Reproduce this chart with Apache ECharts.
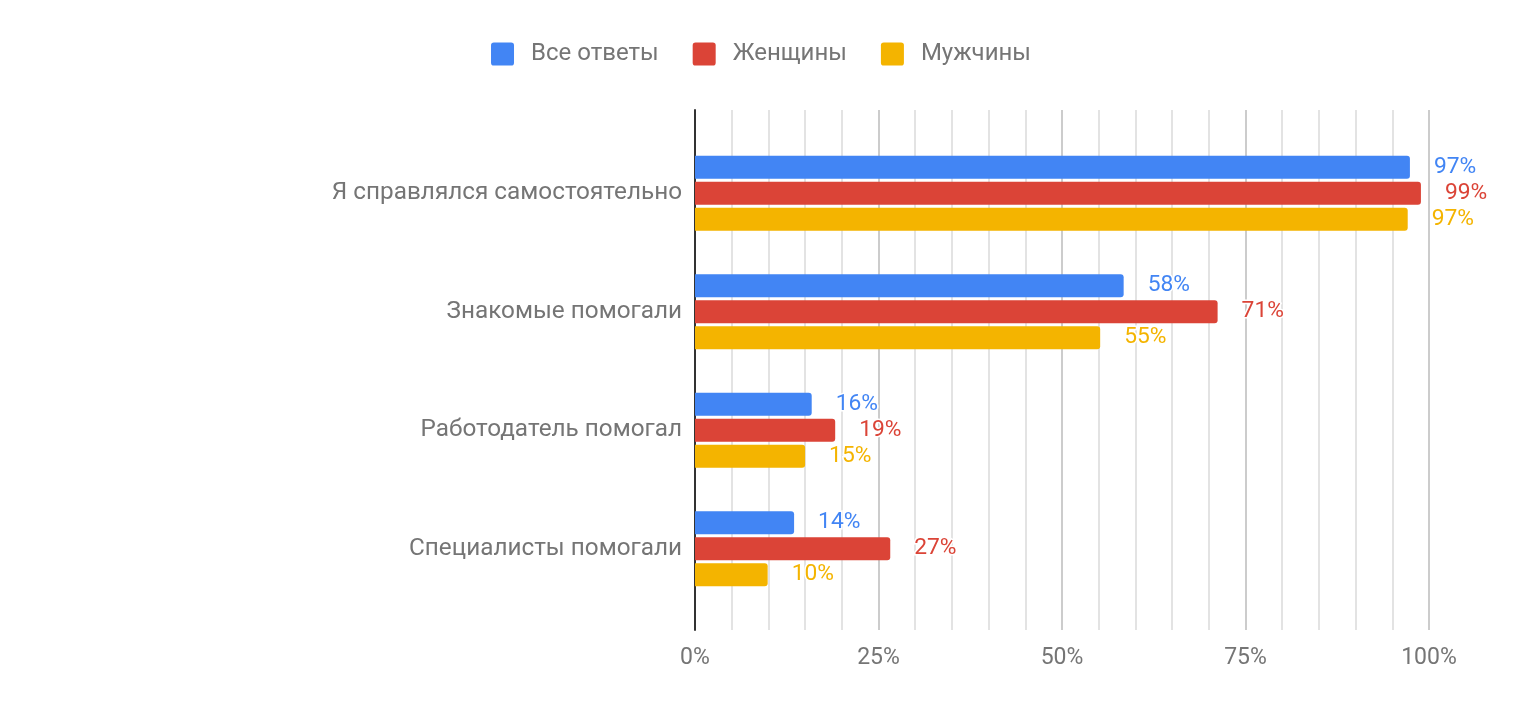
<!DOCTYPE html>
<html>
<head>
<meta charset="utf-8">
<script src="https://cdn.jsdelivr.net/npm/echarts@6/dist/echarts.min.js"></script>
<style>
html,body{margin:0;padding:0;background:#fff;}
#chart{width:1522px;height:708px;}
</style>
</head>
<body>
<div id="chart"></div>
<script>
var categories = ['Я справлялся самостоятельно', 'Знакомые помогали', 'Работодатель помогал', 'Специалисты помогали'];
var seriesNames = ['Все ответы', 'Женщины', 'Мужчины'];
var allAnswers = [97.4, 58.4, 15.9, 13.5];
var women = [98.9, 71.2, 19.1, 26.6];
var men = [97.1, 55.2, 15.0, 9.9];
var colors = ['#4285F4', '#DB4437', '#F4B400'];

var FONT = 'Roboto, "Noto Sans", sans-serif';
var chart = echarts.init(document.getElementById('chart'));

function mkSeries(name, data, color) {
  return {
    name: name,
    type: 'bar',
    xAxisIndex: 1,
    yAxisIndex: 1,
    data: data,
    barWidth: 23,
    barGap: '13%',
    itemStyle: { color: color, borderRadius: [0, 3, 3, 0] },
    label: {
      show: true,
      position: 'right',
      distance: 24,
      color: color,
      fontFamily: FONT,
      fontSize: 22.8,
      textBorderColor: '#fff',
      textBorderWidth: 3,
      formatter: function (p) { return Math.round(p.value) + '%'; }
    }
  };
}

chart.setOption({
  animation: false,
  color: colors,
  legend: {
    top: 37,
    left: 'center',
    itemWidth: 23,
    itemHeight: 23,
    itemGap: 34,
    icon: 'path://M3,0 L21,0 Q24,0 24,3 L24,21 Q24,24 21,24 L3,24 Q0,24 0,21 L0,3 Q0,0 3,0 Z',
    data: seriesNames,
    textStyle: { color: '#757575', fontSize: 24, fontFamily: FONT, padding: [0, 0, 0, 12] }
  },
  grid: [
    { left: 695, right: 93, top: 110, bottom: 78 },
    { left: 695, right: 93, top: 134, bottom: 100 }
  ],
  xAxis: [
    {
      gridIndex: 0, type: 'value', min: 0, max: 100, interval: 5,
      axisLine: { show: false }, axisTick: { show: false },
      splitLine: { show: true, lineStyle: { color: ['#cccccc', '#e3e3e3', '#e3e3e3', '#e3e3e3', '#e3e3e3'], width: 2 } },
      axisLabel: {
        margin: 17, color: '#757575', fontSize: 23, fontFamily: FONT,
        formatter: function (v) { return v % 25 === 0 ? v + '%' : ''; }
      }
    },
    { gridIndex: 1, type: 'value', min: 0, max: 100, show: false }
  ],
  yAxis: [
    {
      gridIndex: 0, type: 'value', min: 0, max: 1,
      axisLine: { show: true, lineStyle: { color: '#333', width: 2 } },
      axisTick: { show: false }, axisLabel: { show: false }, splitLine: { show: false }
    },
    {
      gridIndex: 1, type: 'category', data: categories, inverse: true,
      axisLine: { show: false }, axisTick: { show: false },
      axisLabel: { margin: 13, color: '#757575', fontSize: 24.3, fontFamily: FONT }
    }
  ],
  series: [
    mkSeries(seriesNames[0], allAnswers, colors[0]),
    mkSeries(seriesNames[1], women, colors[1]),
    mkSeries(seriesNames[2], men, colors[2])
  ]
});
</script>
</body>
</html>
